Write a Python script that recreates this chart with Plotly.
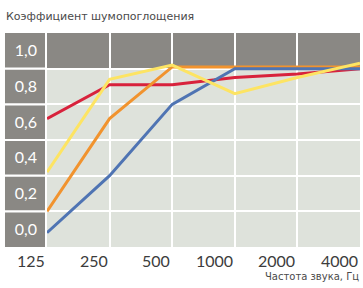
import plotly.graph_objects as go

freqs = ["125", "250", "500", "1000", "2000", "4000"]
y_labels = ["0,0", "0,2", "0,4", "0,6", "0,8", "1,0"]
y_vals = [0.0, 0.2, 0.4, 0.6, 0.8, 1.0]

red = [0.62, 0.81, 0.81, 0.85, 0.87, 0.90]
orange = [0.10, 0.62, 0.91, 0.91, 0.91, 0.91]
blue = [-0.02, 0.30, 0.70, 0.90, 0.90, 0.90]
yellow = [0.32, 0.84, 0.92, 0.76, 0.85, 0.93]

series = [
    (red, "#d8223c"),
    (orange, "#f1932e"),
    (blue, "#4f74b3"),
    (yellow, "#fde463"),
]

GRAY = "#8a8884"
BG = "#dee2db"

x_idx = list(range(len(freqs)))

fig = go.Figure()
for vals, col in series:
    fig.add_trace(go.Scatter(x=x_idx, y=vals, mode="lines",
                             line=dict(color=col, width=3), showlegend=False,
                             hoverinfo="skip"))

shapes = []
# top gray band inside plot
shapes.append(dict(type="rect", xref="x", yref="y", x0=0, x1=5, y0=0.9, y1=1.1,
                   fillcolor=GRAY, line=dict(width=0), layer="below"))
# left gray label column cells
gap = 0.006
bounds = [-0.1, 0.1, 0.3, 0.5, 0.7, 0.9, 1.1]
for i in range(6):
    y0 = bounds[i] + (gap if i > 0 else 0)
    y1 = bounds[i + 1] - (gap if i < 5 else 0)
    shapes.append(dict(type="rect", xref="paper", yref="y",
                       x0=-0.1342, x1=-0.0064, y0=y0, y1=y1,
                       fillcolor=GRAY, line=dict(width=0), layer="below"))

annotations = []
for i, lab in enumerate(freqs):
    annotations.append(dict(x=i, y=-0.1, xref="x", yref="y", text=lab,
                            showarrow=False, xanchor="right", yanchor="top",
                            yshift=-2, font=dict(family="Lato", size=16, color="#3c3c3c")))
annotations.append(dict(x=0, y=1, xref="paper", yref="paper", text="Коэффициент шумопоглощения",
                        showarrow=False, xanchor="left", yanchor="middle",
                        xshift=-43, yshift=17, font=dict(family="DejaVu Sans", size=11, color="#4a4a4a")))
annotations.append(dict(x=1, y=0, xref="paper", yref="paper", text="Частота звука, Гц",
                        showarrow=False, xanchor="right", yanchor="middle",
                        xshift=1, yshift=-29, font=dict(family="DejaVu Sans", size=10, color="#4a4a4a")))

fig.update_layout(
    width=363, height=288,
    margin=dict(l=47, r=3, t=33, b=41),
    paper_bgcolor="white", plot_bgcolor=BG,
    shapes=shapes, annotations=annotations,
    xaxis=dict(range=[0, 5], tickvals=x_idx, showticklabels=False, showgrid=True,
               gridcolor="white", gridwidth=2, zeroline=False, showline=False, ticks=""),
    yaxis=dict(range=[-0.1, 1.1], tickvals=y_vals, ticktext=y_labels, showgrid=False,
               zeroline=False, showline=False, ticks="", ticklabelstandoff=9,
               tickfont=dict(family="Lato", size=16, color="white"),
               minor=dict(tickvals=[0.1, 0.3, 0.5, 0.7, 0.9], showgrid=True,
                          gridcolor="white", gridwidth=2, ticks="")),
)

fig.write_html("out.html", config={"displayModeBar": False},
               post_script="document.body.style.margin='0px';")
